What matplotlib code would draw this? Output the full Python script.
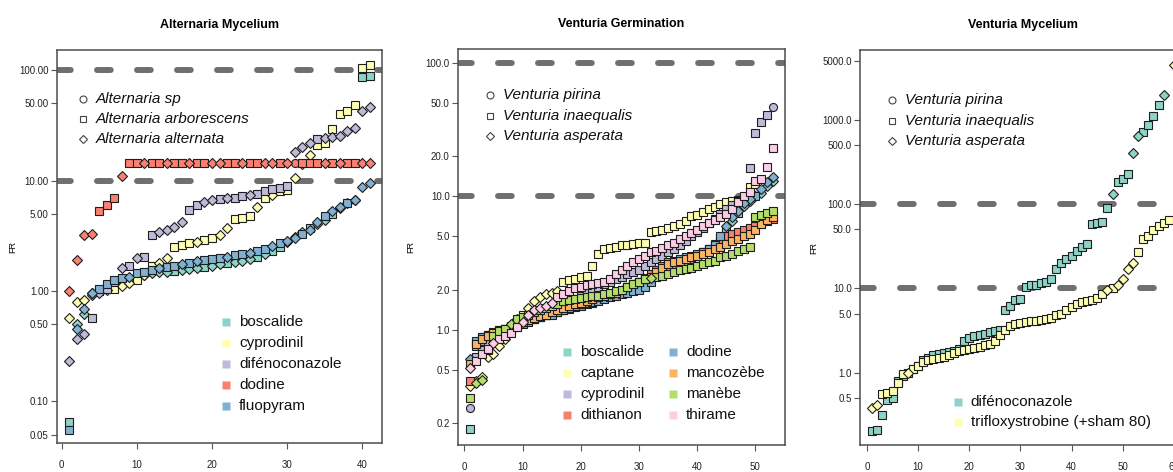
import numpy as np
import matplotlib.pyplot as plt
from matplotlib.ticker import NullLocator

plt.rcParams['font.family'] = ['Liberation Sans', 'DejaVu Sans']

# colours (R brewer Set3)
set3 = ['#8DD3C7', '#FFFFB3', '#BEBADA', '#FB8072', '#80B1D3', '#FDB462', '#B3DE69', '#FCCDE5']
markers = ['o', 's', 'D']
msizes = {'o': 5.8, 's': 5.4, 'D': 4.9}

# ---------------- Alternaria Mycelium ----------------
alt_species = ['Alternaria sp', 'Alternaria arborescens', 'Alternaria alternata']
alt_fungi = ['boscalide', 'cyprodinil', 'difénoconazole', 'dodine', 'fluopyram']

alt_boscalide = [0.065, 0.50, 0.62, 0.92, 1.00, 1.08, 1.15, 1.22, 1.28, 1.35,
                 1.40, 1.45, 1.48, 1.50, 1.52, 1.55, 1.58, 1.62, 1.66, 1.70,
                 1.74, 1.78, 1.82, 1.88, 1.95, 2.05, 2.15, 2.30, 2.50, 2.80,
                 3.10, 3.40, 3.70, 4.00, 4.40, 5.00, 5.60, 6.20, 6.60, 86.0,
                 88.0]
alt_cyprodinil = [0.57, 0.80, 0.82, 0.95, 1.00, 1.02, 1.05, 1.10, 1.18, 1.25,
                  1.40, 1.70, 1.80, 2.00, 2.50, 2.60, 2.70, 2.80, 2.90, 3.00,
                  3.20, 3.70, 4.50, 4.60, 4.80, 5.80, 7.00, 7.40, 8.00, 8.20,
                  10.5, 14.0, 17.0, 21.0, 22.0, 29.0, 40.0, 43.0, 48.0, 105.0,
                  112.0]
alt_difeno = [0.23, 0.37, 0.41, 0.57, 0.95, 1.05, 1.20, 1.60, 1.70, 2.00,
              2.05, 3.20, 3.40, 3.60, 3.80, 4.20, 5.40, 6.00, 6.40, 6.60,
              6.80, 7.00, 7.00, 7.20, 7.40, 7.60, 8.00, 8.40, 8.60, 9.00,
              18.0, 20.0, 22.0, 24.0, 24.5, 25.0, 25.5, 28.0, 30.0, 43.0,
              46.0]
alt_dodine = [1.0, 1.9, 3.2, 3.3, 5.3, 6.0, 6.9, 11.0, 14.5, 14.5,
              14.5, 14.5, 14.5, 14.5, 14.5, 14.5, 14.5, 14.5, 14.5, 14.5,
              14.5, 14.5, 14.5, 14.5, 14.5, 14.5, 14.5, 14.5, 14.5, 14.5,
              14.5, 14.5, 14.5, 14.5, 14.5, 14.5, 14.5, 14.5, 14.5, 14.5,
              14.5]
alt_fluopyram = [0.055, 0.45, 0.68, 0.95, 1.05, 1.15, 1.25, 1.30, 1.35, 1.45,
                 1.50, 1.55, 1.60, 1.65, 1.70, 1.75, 1.80, 1.85, 1.90, 1.95,
                 2.00, 2.05, 2.10, 2.15, 2.20, 2.30, 2.40, 2.55, 2.70, 2.85,
                 3.00, 3.30, 3.60, 4.20, 4.80, 5.30, 5.80, 6.20, 6.60, 8.80,
                 9.50]
# species of each isolate (0 = sp, 1 = arborescens, 2 = alternata)
alt_sp_boscalide = "1222121221" "2222122212" "2122212112" "2212212221" "1"
alt_sp_cyprodinil = "2222121221" "2122111211" "2211121211" "2221111111" "1"
alt_sp_difeno = "2221211212" "1122221122" "1211211111" "2221222222" "2"
alt_sp_dodine = "22221112" "1121121121" "1221121122" "1201112121" "122"
alt_sp_fluopyram = "1222111121" "1121121211" "1211211212" "2122122122" "2"

# ---------------- Venturia Germination ----------------
ven_species = ['Venturia pirina', 'Venturia inaequalis', 'Venturia asperata']
germ_fungi = ['boscalide', 'captane', 'cyprodinil', 'dithianon',
              'dodine', 'mancozèbe', 'manèbe', 'thirame']

germ_boscalide = [0.18, 0.75, 0.82, 0.88, 0.92, 0.96, 1.00, 1.04, 1.08, 1.12,
                  1.16, 1.20, 1.24, 1.28, 1.32, 1.36, 1.40, 1.45, 1.50, 1.55,
                  1.60, 1.65, 1.70, 1.75, 1.80, 1.90, 2.00, 2.10, 2.20, 2.30,
                  2.40, 2.50, 2.60, 2.70, 2.80, 2.90, 3.00, 3.20, 3.40, 3.60,
                  3.80, 4.00, 4.40, 4.80, 5.50, 6.50, 7.50, 8.50, 9.20, 10.0,
                  10.5, 12.0, 13.0]
germ_captane = [0.38, 0.41, 0.44, 0.62, 0.66, 0.75, 0.85, 1.00, 1.20, 1.30,
                1.45, 1.65, 1.75, 1.85, 1.90, 1.95, 2.30, 2.35, 2.40, 2.50,
                2.55, 3.00, 3.70, 4.00, 4.10, 4.20, 4.30, 4.35, 4.40, 4.45,
                4.50, 5.40, 5.50, 5.60, 5.80, 6.00, 6.20, 6.50, 7.10, 7.30,
                7.60, 8.00, 8.30, 8.70, 9.00, 9.20, 9.40, 9.80, 11.7, 12.3]
germ_cyprodinil = [0.26, 0.63, 0.70, 0.78, 0.85, 0.90, 0.95, 1.00, 1.05, 1.15,
                   1.25, 1.30, 1.35, 1.40, 1.45, 1.50, 1.55, 1.60, 1.70, 1.80,
                   1.90, 2.00, 2.10, 2.20, 2.30, 2.40, 2.50, 2.60, 2.70, 2.80,
                   3.00, 3.20, 3.40, 3.60, 3.80, 4.00, 4.30, 4.60, 5.00, 5.40,
                   5.80, 6.30, 6.80, 7.40, 8.00, 8.60, 9.20, 9.60, 16.4, 30.0,
                   36.0, 41.0, 47.0]
germ_dithianon = [0.41, 0.80, 0.88, 0.92, 0.96, 1.00, 1.02, 1.05, 1.08, 1.12,
                  1.16, 1.20, 1.24, 1.28, 1.32, 1.36, 1.40, 1.44, 1.48, 1.52,
                  1.56, 1.60, 1.66, 1.72, 1.80, 1.90, 2.00, 2.10, 2.20, 2.30,
                  2.45, 2.60, 2.80, 3.00, 3.10, 3.20, 3.30, 3.40, 3.50, 3.60,
                  3.80, 4.00, 4.30, 4.60, 5.00, 5.20, 5.40, 5.60, 5.80, 6.00,
                  6.20, 6.50, 6.80]
germ_dodine = [0.60, 0.83, 0.88, 0.92, 0.95, 1.00, 1.02, 1.05, 1.08, 1.10,
               1.15, 1.20, 1.25, 1.28, 1.30, 1.35, 1.40, 1.45, 1.50, 1.55,
               1.60, 1.62, 1.65, 1.70, 1.75, 1.80, 1.85, 1.90, 1.95, 2.00,
               2.10, 2.30, 2.60, 3.00, 3.20, 3.30, 3.40, 3.50, 3.60, 3.70,
               3.80, 4.00, 4.30, 5.00, 6.00, 7.00, 7.80, 8.90, 9.50, 10.0,
               11.3, 12.7, 14.0]
germ_mancozebe = [0.55, 0.78, 0.85, 0.90, 0.94, 0.98, 1.02, 1.06, 1.10, 1.14,
                  1.18, 1.22, 1.26, 1.30, 1.35, 1.40, 1.45, 1.50, 1.55, 1.60,
                  1.65, 1.70, 1.75, 1.80, 1.85, 1.90, 2.00, 2.10, 2.20, 2.30,
                  2.40, 2.50, 2.70, 2.90, 3.10, 3.20, 3.30, 3.40, 3.50, 3.60,
                  3.70, 3.80, 4.00, 4.20, 4.40, 4.60, 4.80, 5.00, 5.20, 5.60,
                  6.20, 6.60, 7.00]
germ_manebe = [0.31, 0.40, 0.42, 0.70, 0.90, 0.98, 1.02, 1.10, 1.20, 1.25,
               1.30, 1.35, 1.40, 1.45, 1.50, 1.55, 1.65, 1.68, 1.70, 1.72,
               1.75, 1.78, 1.80, 1.85, 1.90, 1.95, 2.00, 2.10, 2.20, 2.30,
               2.40, 2.45, 2.50, 2.55, 2.60, 2.70, 2.80, 2.85, 2.90, 3.00,
               3.10, 3.20, 3.30, 3.50, 3.60, 3.70, 3.90, 4.00, 4.20, 7.00,
               7.30, 7.50, 7.70]
germ_thirame = [0.52, 0.58, 0.66, 0.72, 0.80, 0.85, 0.90, 0.95, 1.05, 1.15,
                1.30, 1.40, 1.45, 1.50, 1.60, 1.75, 1.85, 1.95, 2.05, 2.10,
                2.15, 2.20, 2.25, 2.30, 2.40, 2.60, 2.80, 3.00, 3.20, 3.40,
                3.60, 3.80, 3.90, 4.10, 4.30, 4.50, 4.80, 5.00, 5.30, 5.60,
                6.00, 6.30, 6.60, 7.00, 7.40, 8.00, 9.00, 10.0, 10.7, 13.0,
                13.5, 16.7, 23.0]
# species of each isolate (0 = pirina, 1 = inaequalis, 2 = asperata)
germ_sp_boscalide = "1111111111" "1111111111" "1111111111" "1111111111" "1111121222" "222"
germ_sp_captane = "2222222121" "2222221111" "1111111111" "1111111111" "1111111111"
germ_sp_cyprodinil = "0111111111" "1111111111" "1111111111" "1111111111" "1111111111" "110"
germ_sp_dithianon = "1111111111" "1111111111" "1111111111" "1111111111" "1111111111" "111"
germ_sp_dodine = "2111111111" "1111111111" "1111111111" "1111111111" "1111222221" "222"
germ_sp_mancozebe = "1111111111" "1111111111" "1111111111" "1111111111" "1111111111" "111"
germ_sp_manebe = "1221111211" "1111111111" "1111111111" "1211111111" "1111111111" "111"
germ_sp_thirame = "2111211112" "2222211111" "1111111111" "1111111111" "1111111111" "111"

# ---------------- Venturia Mycelium ----------------
myc_fungi = ['difénoconazole', 'trifloxystrobine (+sham 80)']
myc_difeno = [0.20, 0.21, 0.31, 0.47, 0.50, 0.80, 0.90, 1.00, 1.10, 1.20,
              1.40, 1.50, 1.60, 1.65, 1.70, 1.75, 1.80, 1.90, 2.40, 2.60,
              2.70, 2.80, 2.90, 3.00, 3.10, 3.20, 5.60, 6.20, 7.20, 7.50,
              10.5, 10.8, 11.0, 11.5, 12.0, 12.8, 17.0, 20.0, 22.0, 24.0,
              28.0, 31.0, 34.0, 58.0, 60.0, 62.0, 89.0, 130.0, 185.0, 200.0,
              225.0, 400.0, 650.0, 720.0, 870.0, 1100.0, 1500.0, 1970.0]
myc_triflox = [0.38, 0.41, 0.55, 0.57, 0.60, 0.76, 0.95, 1.00, 1.10, 1.20,
               1.35, 1.40, 1.45, 1.50, 1.55, 1.60, 1.70, 1.80, 1.85, 1.90,
               1.95, 2.00, 2.10, 2.20, 2.40, 2.80, 3.20, 3.60, 3.80, 3.90,
               4.00, 4.05, 4.10, 4.20, 4.30, 4.50, 4.80, 5.00, 5.50, 6.00,
               6.50, 6.80, 7.00, 7.30, 7.60, 8.50, 9.50, 10.0, 11.0, 12.8,
               17.0, 20.0, 27.0, 39.0, 42.0, 49.0, 55.0, 60.0, 65.0, 4500.0]
myc_sp_difeno = "1111111111" "1111111111" "1111111111" "1111111111" "1111111211" "12211112"
myc_sp_triflox = "2211111211" "1111111111" "1111111111" "1111111111" "1111112122" "2211111112"


def draw_points(ax, vals, sp, col):
    x = np.arange(1, len(vals) + 1)
    v = np.array(vals)
    codes = np.array([int(c) for c in sp])
    for k, m in enumerate(markers):
        sel = codes == k
        if sel.any():
            ax.plot(x[sel], v[sel], ls='none', marker=m, ms=msizes[m],
                    mfc=col, mec='#1e1e1e', mew=0.8, zorder=3)


def setup(ax, title, xlim, ylim, yticks, yfmt, labx):
    ax.set_yscale('log')
    ax.set_xlim(xlim)
    ax.set_ylim(ylim)
    ax.set_yticks(yticks)
    ax.set_yticklabels([yfmt % t for t in yticks])
    ax.yaxis.set_minor_locator(NullLocator())
    ax.set_xticks(np.arange(0, xlim[1], 10))
    ax.tick_params(labelsize=7, length=4, width=0.8, color='#555555',
                   labelcolor='#222222', pad=2)
    ax.tick_params(axis='x', pad=8)
    for s in ax.spines.values():
        s.set_color('#4d4d4d')
        s.set_linewidth(1.1)
    for h in (10, 100):
        ax.axhline(h, color='#6f6f6f', lw=4.3, ls=(0, (2.3, 4.4)),
                   dash_capstyle='round', zorder=2)
    ax.set_title(title, fontsize=9, fontweight='bold', pad=16)
    ax.set_ylabel('FR', fontsize=6.5)
    ax.yaxis.set_label_coords(labx, 0.5)


def key(ax, x0, y0, dy, labels, mk, faces, edge, ms, italic=False):
    for i, lab in enumerate(labels):
        y = y0 - i * dy
        ax.plot([x0], [y], ls='none', marker=mk[i], ms=ms[i], mfc=faces[i],
                mec=edge, mew=0.8, transform=ax.transAxes, clip_on=False, zorder=4)
        ax.text(x0 + 0.04, y, lab, transform=ax.transAxes, va='center',
                fontsize=11, style='italic' if italic else 'normal',
                color='#111111', zorder=4)


fig = plt.figure(figsize=(11.73, 4.72), dpi=100)
ax1 = fig.add_axes([57 / 1173, 1 - 443 / 472, 325 / 1173, 393 / 472])
ax2 = fig.add_axes([458 / 1173, 1 - 445 / 472, 327 / 1173, 396 / 472])
ax3 = fig.add_axes([860 / 1173, 1 - 445 / 472, 326 / 1173, 395 / 472])

open_mk = ['o', 's', 'D']
open_ms = [5.0, 4.3, 3.6]

# panel 1
alt_series = [alt_boscalide, alt_cyprodinil, alt_difeno, alt_dodine, alt_fluopyram]
alt_sps = [alt_sp_boscalide, alt_sp_cyprodinil, alt_sp_difeno, alt_sp_dodine, alt_sp_fluopyram]
for vals, sp, col in zip(alt_series, alt_sps, set3):
    draw_points(ax1, vals, sp, col)
setup(ax1, 'Alternaria Mycelium', (-0.6, 42.6), (0.042, 152),
      [0.05, 0.1, 0.5, 1, 5, 10, 50, 100], '%.2f', -0.123)
key(ax1, 0.08, 0.875, 0.051, alt_species, open_mk, ['white'] * 3, '#444444',
    open_ms, italic=True)
key(ax1, 0.52, 0.308, 0.0535, alt_fungi, ['s'] * 5, set3[:5], 'none', [5.2] * 5)

# panel 2
germ_series = [germ_boscalide, germ_captane, germ_cyprodinil, germ_dithianon,
               germ_dodine, germ_mancozebe, germ_manebe, germ_thirame]
germ_sps = [germ_sp_boscalide, germ_sp_captane, germ_sp_cyprodinil, germ_sp_dithianon,
            germ_sp_dodine, germ_sp_mancozebe, germ_sp_manebe, germ_sp_thirame]
for vals, sp, col in zip(germ_series, germ_sps, set3):
    draw_points(ax2, vals, sp, col)
setup(ax2, 'Venturia Germination', (-1.08, 55.08), (0.137, 127),
      [0.2, 0.5, 1, 2, 5, 10, 20, 50, 100], '%.1f', -0.131)
key(ax2, 0.098, 0.884, 0.052, ven_species, open_mk, ['white'] * 3, '#444444',
    open_ms, italic=True)
key(ax2, 0.333, 0.235, 0.053, germ_fungi[:4], ['s'] * 4, set3[:4], 'none', [5.2] * 4)
key(ax2, 0.657, 0.235, 0.053, germ_fungi[4:], ['s'] * 4, set3[4:], 'none', [5.2] * 4)

# panel 3
draw_points(ax3, myc_difeno, myc_sp_difeno, set3[0])
draw_points(ax3, myc_triflox, myc_sp_triflox, set3[1])
setup(ax3, 'Venturia Mycelium', (-1.36, 62.36), (0.138, 6740),
      [0.5, 1, 5, 10, 50, 100, 500, 1000, 5000], '%.1f', -0.129)
key(ax3, 0.098, 0.873, 0.052, ven_species, open_mk, ['white'] * 3, '#444444',
    open_ms, italic=True)
key(ax3, 0.30, 0.109, 0.051, myc_fungi, ['s'] * 2, set3[:2], 'none', [5.2] * 2)

fig.savefig('out.png', dpi=100)
